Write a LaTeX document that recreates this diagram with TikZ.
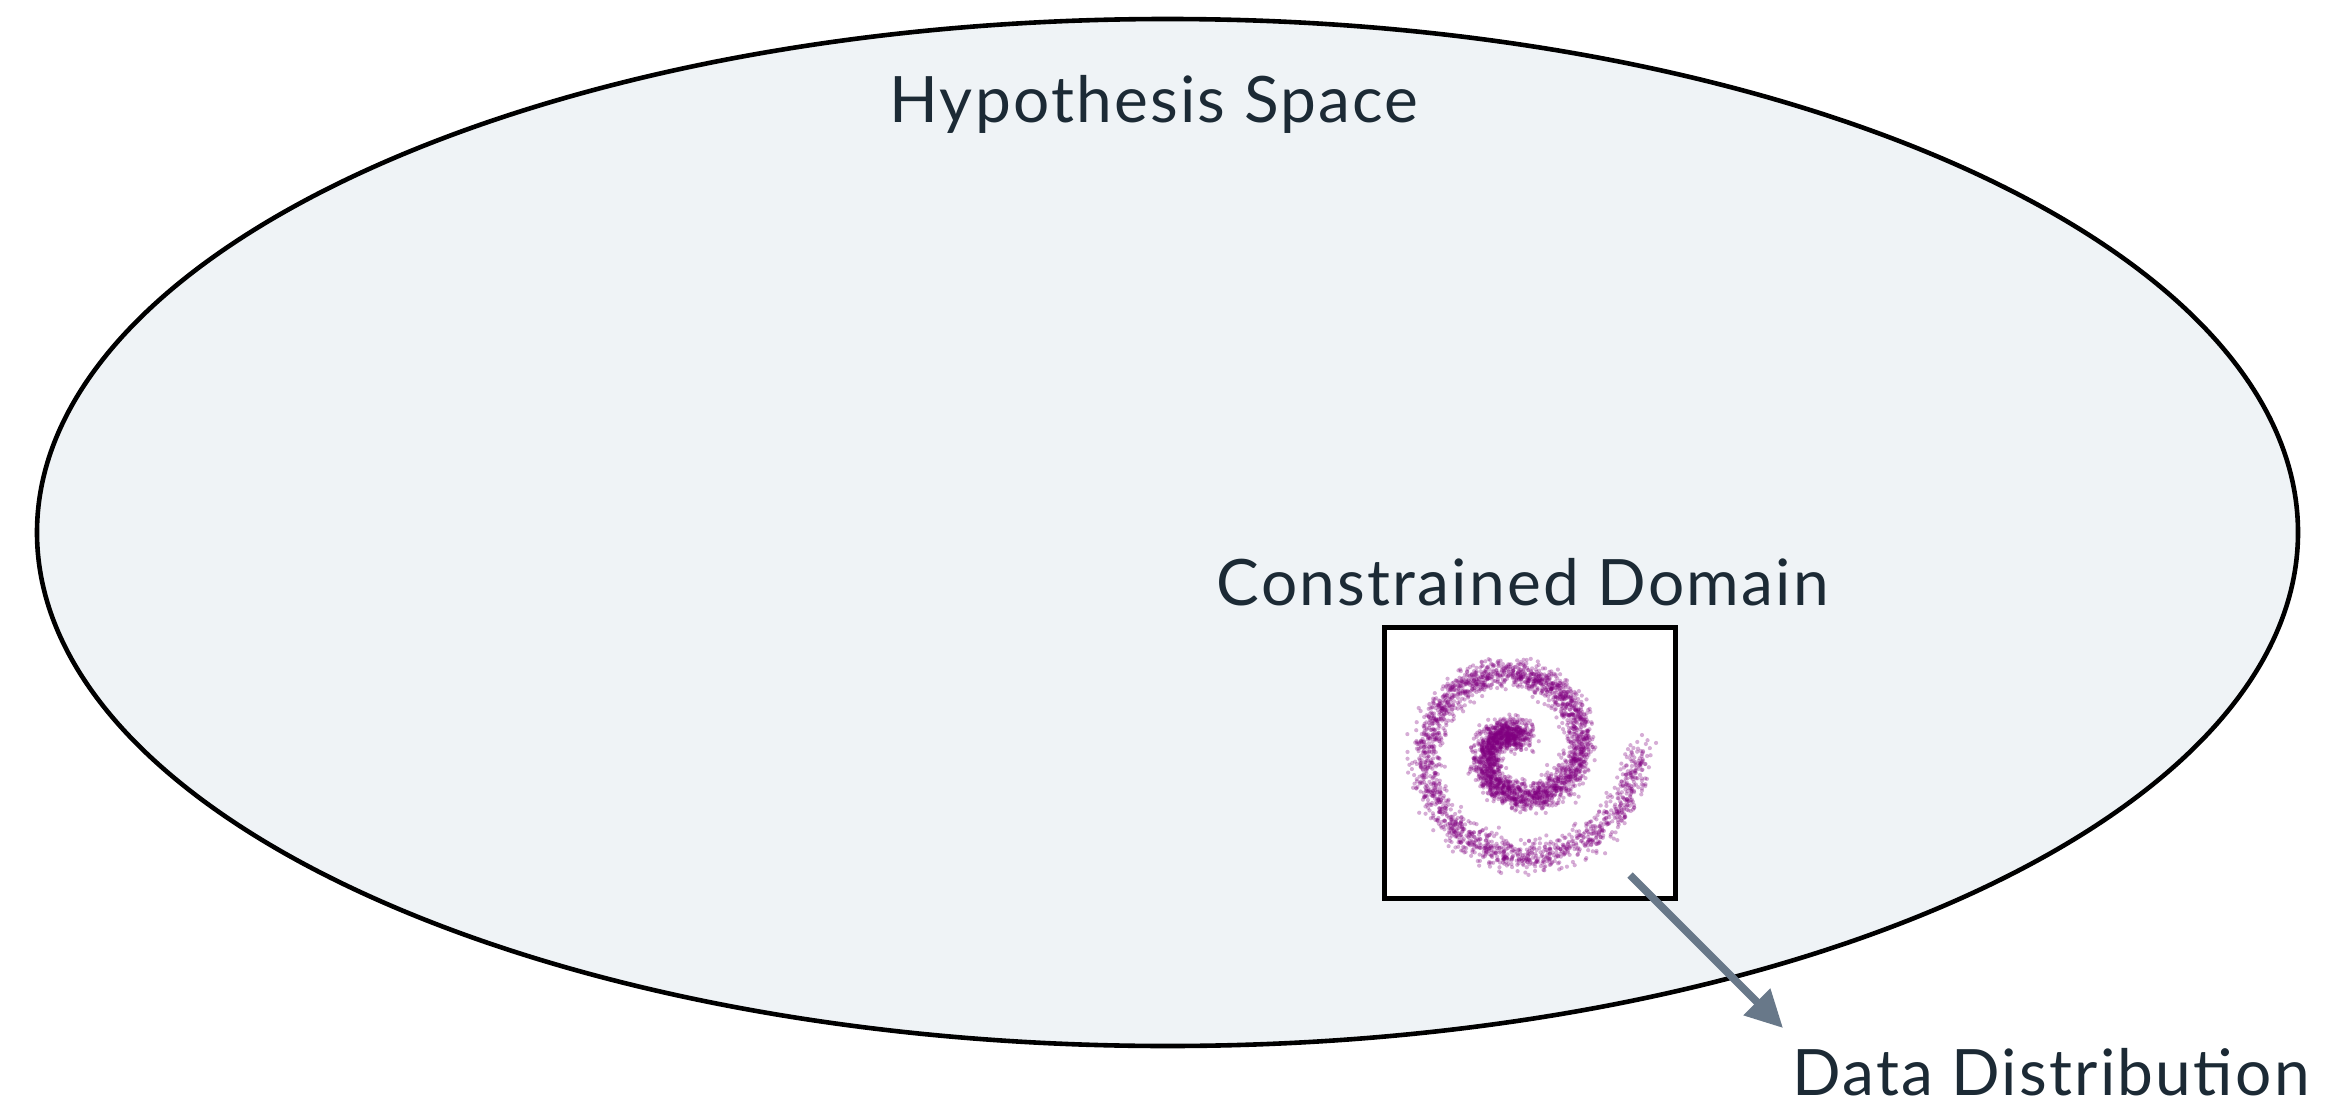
\documentclass[tikz,border=0pt]{standalone}
\usepackage{fontspec}
\setmainfont{Lato}[LetterSpace=3.5]
\usetikzlibrary{arrows.meta}
\definecolor{hypfill}{HTML}{EFF3F6}
\definecolor{txt}{HTML}{1C2A35}
\definecolor{arrcol}{HTML}{687889}
\definecolor{dotcol}{HTML}{800080}
\begin{document}
\begin{tikzpicture}[x=0.5pt,y=-0.5pt,
  lbl/.style={text=txt, font=\fontsize{32}{38}\selectfont, inner sep=0pt, anchor=base},
  space/.style={line width=2.3pt, draw=black, fill=hypfill},
  domainbox/.style={draw=black, line width=2.5pt, fill=white, minimum width=145.5pt, minimum height=135.5pt, inner sep=0pt},
  dot/.style={fill=dotcol, opacity=0.32},
  pointer/.style={draw=arrcol, line width=3.8pt, -{Triangle[length=18.5pt,width=18pt]}}]
\fill[white] (0,0) rectangle (2326,1108);
\useasboundingbox (0,0) rectangle (2326,1108);
\draw[space] (1167.5,532.5) ellipse [x radius=1130.5, y radius=513.5];
\node[lbl] (hyp) at (1154,122) {Hypothesis Space};
\node[domainbox] (domain) at (1529.5,762.5) {};
\node[lbl] (dlab) at (1523,605) {Constrained Domain};
\pgfmathsetseed{7}
\foreach \i in {1,...,4000} {
  \pgfmathsetmacro{\t}{72+648*rnd}
  \pgfmathsetmacro{\r}{0.1693*\t}
  \pgfmathsetmacro{\px}{1518+\r*cos(\t)+7.3*(rand+rand+rand)}
  \pgfmathsetmacro{\py}{750-\r*sin(\t)+7.3*(rand+rand+rand)}
  \fill[dot] (\px,\py) circle [radius=2.1];
}
\coordinate (aS) at (1630,875);
\coordinate (aE) at (1783,1028);
\draw[pointer] (aS) -- (aE);
\node[lbl] (data) at (2051,1095) {Data Distribution};
\end{tikzpicture}
\end{document}
